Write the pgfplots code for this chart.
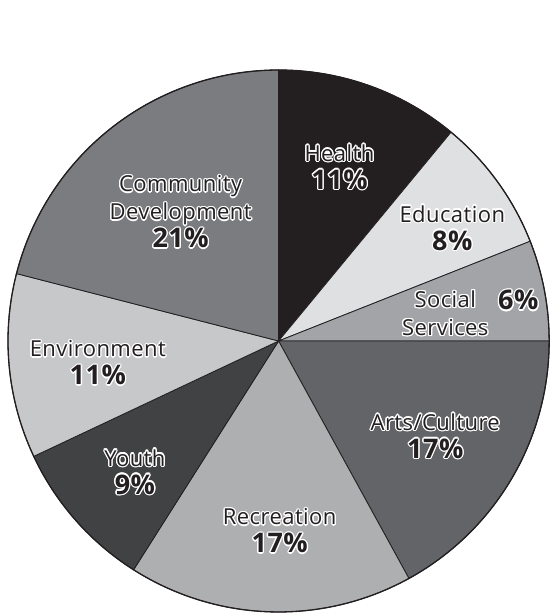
\documentclass[border=0pt]{standalone}
\usepackage{pgfplots}
\pgfplotsset{compat=1.18}
\usepackage{fontspec}
\setmainfont{Open Sans}
\usepackage{contour}
\contourlength{1.3pt}
\contournumber{12}
\definecolor{txt}{HTML}{231F20}
\definecolor{cHealth}{HTML}{231F20}
\definecolor{cEdu}{HTML}{DFE0E2}
\definecolor{cSoc}{HTML}{A3A4A7}
\definecolor{cArts}{HTML}{636467}
\definecolor{cRec}{HTML}{AEAFB1}
\definecolor{cYouth}{HTML}{414244}
\definecolor{cEnv}{HTML}{C7C8CA}
\definecolor{cComm}{HTML}{7B7C80}
% #1 cumulative percent before slice, #2 slice percent, #3 colour
\newcommand{\slice}[3]{%
  \addplot[fill=#3, draw=txt, line width=0.8bp, domain={90-3.6*(#1+#2)}:{90-3.6*(#1)}, samples=90, variable=\t]
    ({cos(\t)},{sin(\t)}) -- (axis cs:0,0) -- cycle;}
\newcommand{\nm}[1]{\contour{white}{#1}}
\newcommand{\pct}[1]{{\fontsize{27bp}{28bp}\selectfont\bfseries\contour{white}{#1}}}
\begin{document}
\begin{tikzpicture}
\begin{axis}[
  scale only axis, width=550bp, height=616bp,
  xmin=-1.0295, xmax=1.003, ymin=-1.0148, ymax=1.2583,
  hide axis, clip=false,
]
% Health 11, Education 8, Social Services 6, Arts/Culture 17,
% Recreation 17, Youth 9, Environment 11, Community Development 21
\slice{0}{11}{cHealth}
\slice{11}{8}{cEdu}
\slice{19}{6}{cSoc}
\slice{25}{17}{cArts}
\slice{42}{17}{cRec}
\slice{59}{9}{cYouth}
\slice{68}{11}{cEnv}
\slice{79}{21}{cComm}
\addplot[draw=txt, line width=1.3bp, domain=0:360, samples=240, variable=\t] ({cos(\t)},{sin(\t)});
\begin{scope}[every node/.style={align=center, text=txt, inner sep=0pt, font=\fontsize{22bp}{28bp}\selectfont\addfontfeatures{LetterSpace=2}}]
\node at (axis cs:0.225,0.640) {\nm{Health}\\\pct{11\%}};
\node at (axis cs:0.642,0.415) {\nm{Education}\\\pct{8\%}};
\node at (axis cs:0.616,0.100) {\nm{Social}\\\nm{Services}};
\node at (axis cs:0.886,0.148) {\pct{6\%}};
\node at (axis cs:0.579,-0.353) {\nm{Arts/Culture}\\\pct{17\%}};
\node at (axis cs:0.004,-0.703) {\nm{Recreation}\\\pct{17\%}};
\node at (axis cs:-0.531,-0.485) {\nm{Youth}\\\pct{9\%}};
\node at (axis cs:-0.668,-0.083) {\nm{Environment}\\\pct{11\%}};
\node at (axis cs:-0.362,0.474) {\nm{Community}\\\nm{Development}\\\pct{21\%}};
\end{scope}
\end{axis}
\pgfresetboundingbox
\path (current axis.south west) rectangle (current axis.north east);
\end{tikzpicture}
\end{document}
